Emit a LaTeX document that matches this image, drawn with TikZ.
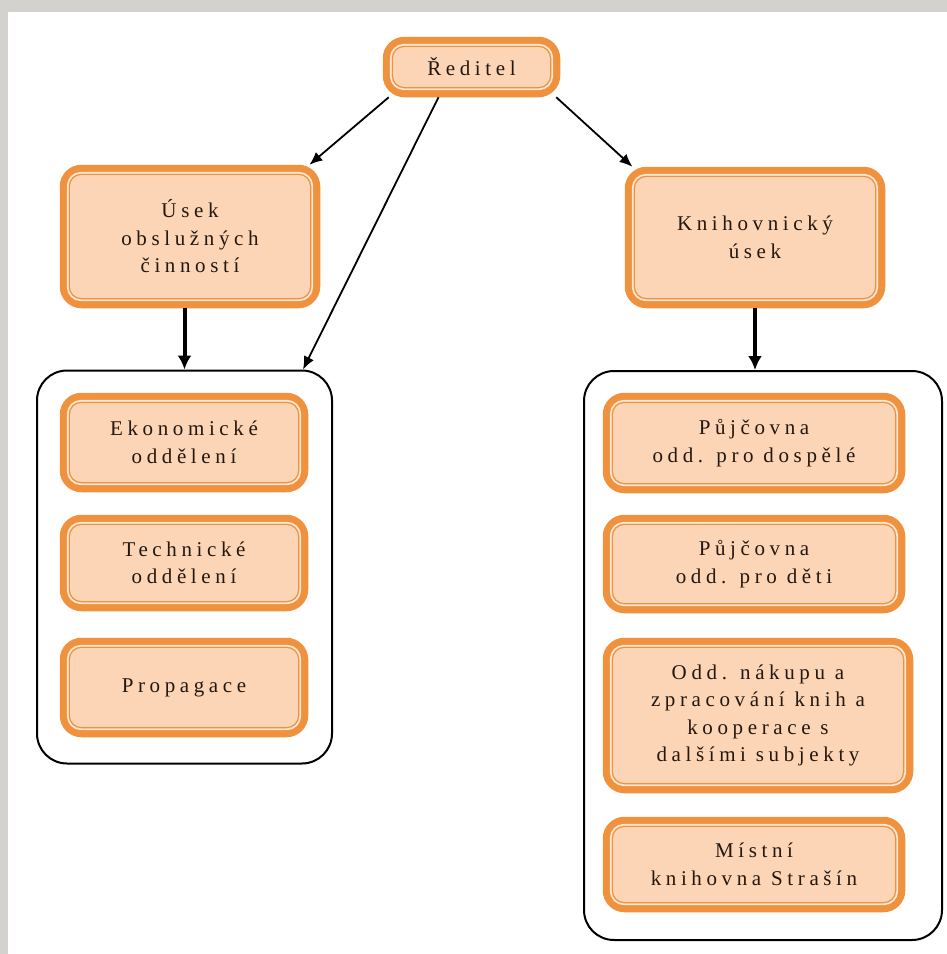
\documentclass[tikz,border=0pt]{standalone}
\usepackage{fontspec}
\setmainfont{Liberation Serif}
\newfontfamily\boxfont[LetterSpace=22]{Liberation Serif}
\usetikzlibrary{arrows.meta}
\definecolor{boxorange}{HTML}{F0913E}
\definecolor{boxfill}{HTML}{FBD5B5}
\definecolor{boxgap}{HTML}{FCE8D6}
\definecolor{textbrown}{HTML}{24170F}
\definecolor{backgrey}{HTML}{D4D2CF}

\tikzset{
  orgbox/.style={draw=boxorange, line width=7.5pt, fill=boxfill, rounded corners=18pt,
    align=center, text=textbrown, inner sep=0pt,
    font=\boxfont\fontsize{21}{27.5}\selectfont},
  groupbox/.style={draw=black, line width=2pt, fill=white, rounded corners=30pt},
  thinarrow/.style={line width=1.8pt, -{Latex[length=13pt,width=11pt]}},
  thickarrow/.style={line width=4pt, -{Latex[length=14pt,width=14pt]}}
}

\begin{document}
\begin{tikzpicture}[x=1pt,y=-1pt]
% background
\fill[backgrey] (0,0) rectangle (947,954);
\fill[white] (8,12) rectangle (947,954);

% groups
\node[groupbox, minimum width=295pt, minimum height=393pt] (leftbox) at (184.5,567) {};
\node[groupbox, minimum width=358pt, minimum height=569pt] (rightbox) at (763,655.5) {};

% top level
\node[orgbox, minimum width=170pt, minimum height=53pt] (reditel) at (471.5,67) {Ředitel};
\node[orgbox, minimum width=253pt, minimum height=136pt] (usek) at (190,236.5) {Úsek\\obslužných\\činností};
\node[orgbox, minimum width=253pt, minimum height=134pt] (knih) at (755,237.5) {Knihovnický\\úsek};

% left group
\node[orgbox, minimum width=241pt, minimum height=92pt] (eko) at (184,442.5) {Ekonomické\\oddělení};
\node[orgbox, minimum width=241pt, minimum height=89pt] (tech) at (184,563) {Technické\\oddělení};
\node[orgbox, minimum width=241pt, minimum height=92pt] (prop) at (184,687.5) {Propagace};

% right group
\node[orgbox, minimum width=295pt, minimum height=93pt] (pdosp) at (754,443) {Půjčovna\\odd. pro dospělé};
\node[orgbox, minimum width=295pt, minimum height=91pt] (pdeti) at (754,564) {Půjčovna\\odd. pro děti};
\node[orgbox, minimum width=303pt, minimum height=148pt] (nakup) at (758,715.5) {Odd. nákupu a\\zpracování knih a\\kooperace s\\dalšími subjekty};
\node[orgbox, minimum width=295pt, minimum height=88pt] (mistni) at (754,864.5) {Místní\\knihovna Strašín};

% inner rims
\foreach \n in {reditel,usek,knih,eko,tech,prop,pdosp,pdeti,nakup,mistni} {
  \draw[boxgap, line width=1.6pt, rounded corners=13pt]
    ([shift={(8pt,-8pt)}]\n.north west) rectangle ([shift={(-8pt,8pt)}]\n.south east);
  \draw[boxorange, line width=1.2pt, rounded corners=12pt]
    ([shift={(9.6pt,-9.6pt)}]\n.north west) rectangle ([shift={(-9.6pt,9.6pt)}]\n.south east);
}

% connectors
\draw[thinarrow] ([xshift=6pt]reditel.south west) -- (usek.31);
\draw[thinarrow] ([xshift=-33pt]reditel.south) -- ([xshift=-30pt]leftbox.north east);
\draw[thinarrow] ([xshift=-4pt]reditel.south east) -- (knih.150);
\draw[thickarrow] (usek.south -| leftbox.north) -- (leftbox.north);
\draw[thickarrow] (knih.south) -- (knih.south |- rightbox.north);
\end{tikzpicture}
\end{document}
